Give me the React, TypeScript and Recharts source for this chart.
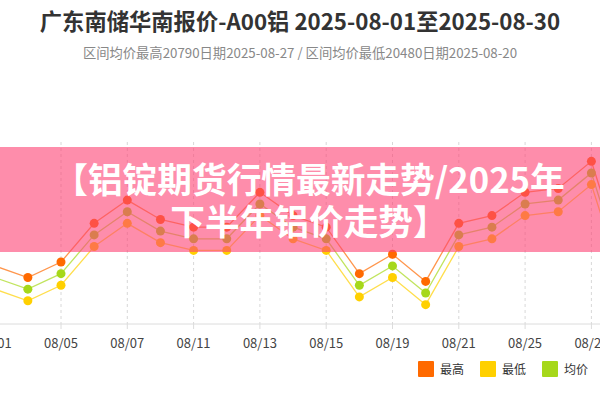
import React from 'react';
import { LineChart, Line, XAxis, YAxis, CartesianGrid } from 'recharts';

const dates = ['08/01', '08/04', '08/05', '08/06', '08/07', '08/08', '08/11', '08/12', '08/13', '08/14', '08/15', '08/18', '08/19', '08/20', '08/21', '08/22', '08/25', '08/26', '08/27', '08/28', '08/29'];
const highValues = [20550, 20520, 20560, 20660, 20720, 20670, 20650, 20650, 20740, 20680, 20650, 20530, 20580, 20510, 20660, 20680, 20740, 20750, 20820, 20550, 20570];
const lowValues = [20490, 20460, 20500, 20600, 20660, 20610, 20590, 20590, 20680, 20620, 20590, 20470, 20520, 20450, 20600, 20620, 20680, 20690, 20760, 20490, 20510];
const avgValues = [20520, 20490, 20530, 20630, 20690, 20640, 20620, 20620, 20710, 20650, 20620, 20500, 20550, 20480, 20630, 20650, 20710, 20720, 20790, 20520, 20540];
const tickLabels = ['08/01', '08/05', '08/07', '08/11', '08/13', '08/15', '08/19', '08/21', '08/25', '08/27', '08/29'];

const seriesNames = ['最高', '最低', '均价'];
const seriesColors = ['#FF6A00', '#FFD000', '#A6D81A'];

const data = dates.map((d, i) => ({ date: d, high: highValues[i], low: lowValues[i], avg: avgValues[i] }));

const FONT = '"Noto Sans CJK SC", "Noto Sans", sans-serif';

export default function App() {
  const keys = ['high', 'low', 'avg'];
  return (
    <div style={{ position: 'fixed', left: 0, top: 0, width: 600, height: 400, overflow: 'hidden', background: '#fff', fontFamily: FONT }}>
      <div style={{ position: 'absolute', left: 0, top: 7, width: 600, textAlign: 'center', fontSize: 22.3, fontWeight: 700, lineHeight: '26px', color: '#333', whiteSpace: 'nowrap' }}>
        广东南储华南报价-A00铝 2025-08-01至2025-08-30
      </div>
      <div style={{ position: 'absolute', left: 0, top: 45, width: 600, textAlign: 'center', fontSize: 13.3, lineHeight: '16px', color: '#888', whiteSpace: 'nowrap' }}>
        区间均价最高20790日期2025-08-27 / 区间均价最低20480日期2025-08-20
      </div>
      <div style={{ position: 'absolute', left: -100, top: 0 }}>
        <LineChart width={860} height={400} data={data} margin={{ top: 142, right: 102.3, bottom: 46, left: 94.7 }}>
          <CartesianGrid horizontal={false} stroke="#d8d8d8" strokeDasharray="3 3" />
          <XAxis
            dataKey="date"
            ticks={tickLabels}
            interval={0}
            height={30}
            tickSize={5}
            tickMargin={10}
            axisLine={{ stroke: '#dcdcdc' }}
            tickLine={{ stroke: '#dcdcdc' }}
            tick={{ fill: '#444', fontSize: 13, fontFamily: FONT }}
          />
          <YAxis hide domain={[20400, 20870]} />
          {keys.map((k, i) => (
            <Line
              key={k}
              dataKey={k}
              name={seriesNames[i]}
              stroke={seriesColors[i]}
              strokeWidth={1.3}
              strokeOpacity={0.7}
              dot={{ r: 4.5, fill: seriesColors[i], stroke: 'none', fillOpacity: 1 }}
              isAnimationActive={false}
            />
          ))}
        </LineChart>
      </div>
      <div style={{ position: 'absolute', top: 361, left: 418, display: 'flex', alignItems: 'center', fontSize: 12, color: '#333', whiteSpace: 'nowrap' }}>
        {seriesNames.map((n, i) => (
          <div key={n} style={{ display: 'flex', alignItems: 'center', marginRight: 16, whiteSpace: 'nowrap' }}>
            <div style={{ width: 16, height: 16, background: seriesColors[i], marginRight: 6, borderRadius: 1, flexShrink: 0 }} />
            <span style={{ lineHeight: '16px', whiteSpace: 'nowrap' }}>{n}</span>
          </div>
        ))}
      </div>
      <div style={{ position: 'absolute', left: 0, top: 147, width: 600, height: 105, background: 'rgba(254,65,115,0.6)', color: '#fff', fontWeight: 700, fontSize: 34.7, textAlign: 'center', paddingLeft: 18, boxSizing: 'border-box', paddingTop: 10 }}>
        <div style={{ lineHeight: '42px', whiteSpace: 'nowrap' }}>【铝锭期货行情最新走势/2025年</div>
        <div style={{ lineHeight: '42px', whiteSpace: 'nowrap' }}>下半年铝价走势】</div>
      </div>
    </div>
  );
}
